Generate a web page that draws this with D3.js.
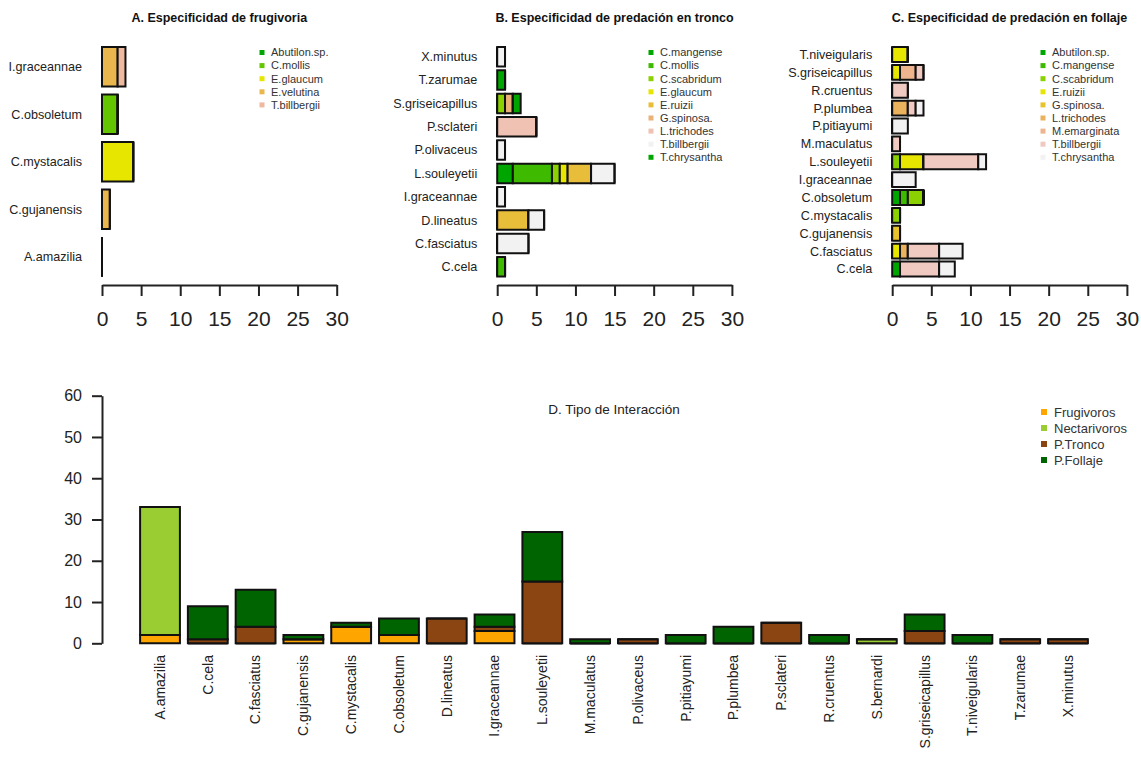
<!DOCTYPE html>
<html>
<head>
<meta charset="utf-8">
<script src="https://cdn.jsdelivr.net/npm/d3@7"></script>
<style>
  html, body { margin: 0; padding: 0; background: #fff; }
  svg { display: block; font-family: "Liberation Sans", Arial, sans-serif; }
</style>
</head>
<body>
<svg id="chart" width="1141" height="760"></svg>
<script>
// ---------- Panel A: frugivory ----------
const frugBirds = ["A.amazilia", "C.gujanensis", "C.mystacalis", "C.obsoletum", "I.graceannae"];
const frugPlants = ["Abutilon.sp.", "C.mollis", "E.glaucum", "E.velutina", "T.billbergii"];
const frugAbutilon = [0, 0, 0, 0, 0];
const frugCmollis = [0, 0, 0, 2, 0];
const frugEglaucum = [0, 0, 4, 0, 0];
const frugEvelutina = [0, 1, 0, 0, 2];
const frugTbillbergii = [0, 0, 0, 0, 1];
const frugColors = ["#00A600", "#63C600", "#E6E600", "#EAB64E", "#EEB99F"];

// ---------- Panel B: trunk predation ----------
const troncoBirds = ["C.cela", "C.fasciatus", "D.lineatus", "I.graceannae", "L.souleyetii",
  "P.olivaceus", "P.sclateri", "S.griseicapillus", "T.zarumae", "X.minutus"];
const troncoPlants = ["C.mangense", "C.mollis", "C.scabridum", "E.glaucum", "E.ruizii",
  "G.spinosa.", "L.trichodes", "T.billbergii", "T.chrysantha"];
const trCmangense   = [0, 0, 0, 0, 2, 0, 0, 0, 1, 0];
const trCmollis     = [1, 0, 0, 0, 5, 0, 0, 0, 0, 0];
const trCscabridum  = [0, 0, 0, 0, 1, 0, 0, 1, 0, 0];
const trEglaucum    = [0, 0, 0, 0, 1, 0, 0, 0, 0, 0];
const trEruizii     = [0, 0, 4, 0, 3, 0, 0, 0, 0, 0];
const trGspinosa    = [0, 0, 0, 0, 0, 0, 0, 1, 0, 0];
const trLtrichodes  = [0, 0, 0, 0, 0, 0, 5, 0, 0, 0];
const trTbillbergii = [0, 4, 2, 1, 3, 1, 0, 0, 0, 1];
const trTchrysantha = [0, 0, 0, 0, 0, 0, 0, 1, 0, 0];
const troncoColors = ["#00A600", "#3EBB00", "#8BD000", "#E6E600", "#E8BD3A",
  "#EBB176", "#EFC2B3", "#F2F2F2", "#00A600"];

// ---------- Panel C: foliage predation ----------
const follajeBirds = ["C.cela", "C.fasciatus", "C.gujanensis", "C.mystacalis", "C.obsoletum",
  "I.graceannae", "L.souleyetii", "M.maculatus", "P.pitiayumi", "P.plumbea", "R.cruentus",
  "S.griseicapillus", "T.niveigularis"];
const follajePlants = ["Abutilon.sp.", "C.mangense", "C.scabridum", "E.ruizii", "G.spinosa.",
  "L.trichodes", "M.emarginata", "T.billbergii", "T.chrysantha"];
const foAbutilon    = [1, 0, 0, 0, 1, 0, 0, 0, 0, 0, 0, 0, 0];
const foCmangense   = [0, 0, 0, 0, 1, 0, 0, 0, 0, 0, 0, 0, 0];
const foCscabridum  = [0, 0, 0, 1, 2, 0, 1, 0, 0, 0, 0, 0, 0];
const foEruizii     = [0, 1, 0, 0, 0, 0, 3, 0, 0, 0, 0, 1, 2];
const foGspinosa    = [0, 0, 1, 0, 0, 0, 0, 0, 0, 0, 0, 0, 0];
const foLtrichodes  = [0, 1, 0, 0, 0, 0, 0, 0, 0, 2, 0, 0, 0];
const foMemarginata = [0, 0, 0, 0, 0, 0, 0, 0, 0, 0, 0, 2, 0];
const foTbillbergii = [5, 4, 0, 0, 0, 0, 7, 1, 0, 1, 2, 1, 0];
const foTchrysantha = [2, 3, 0, 0, 0, 3, 1, 0, 2, 1, 0, 0, 0];
const follajeColors = ["#00A600", "#3EBB00", "#8BD000", "#E6E600", "#E8C32E",
  "#EBB25E", "#EDB48E", "#F0C9C0", "#F2F2F2"];

// ---------- Panel D: interaction type ----------
const allBirds = ["A.amazilia", "C.cela", "C.fasciatus", "C.gujanensis", "C.mystacalis",
  "C.obsoletum", "D.lineatus", "I.graceannae", "L.souleyetii", "M.maculatus", "P.olivaceus",
  "P.pitiayumi", "P.plumbea", "P.sclateri", "R.cruentus", "S.bernardi", "S.griseicapillus",
  "T.niveigularis", "T.zarumae", "X.minutus"];
const interTypes = ["Frugivoros", "Nectarivoros", "P.Tronco", "P.Follaje"];
const frugivoros   = [2, 0, 0, 1, 4, 2, 0, 3, 0, 0, 0, 0, 0, 0, 0, 0, 0, 0, 0, 0];
const nectarivoros = [31, 0, 0, 0, 0, 0, 0, 0, 0, 0, 0, 0, 0, 0, 0, 1, 0, 0, 0, 0];
const pTronco      = [0, 1, 4, 0, 0, 0, 6, 1, 15, 0, 1, 0, 0, 5, 0, 0, 3, 0, 1, 1];
const pFollaje     = [0, 8, 9, 1, 1, 4, 0, 3, 12, 1, 0, 2, 4, 0, 2, 0, 4, 2, 0, 0];
const interColors = ["#FFA500", "#9ACD32", "#8B4513", "#006400"];
const xTicksTop = [0, 5, 10, 15, 20, 25, 30];
const yTicksD = [0, 10, 20, 30, 40, 50, 60];

const svg = d3.select("#chart");

function rectPath(x0, y0, x1, y1) {
  const p = d3.path();
  p.moveTo(x0, y0); p.lineTo(x1, y0); p.lineTo(x1, y1); p.lineTo(x0, y1); p.closePath();
  return p.toString();
}

function hPanel(o) {
  const g = svg.append("g");
  const x = d3.scaleLinear().domain([0, 30]).range([o.x0, o.x0 + 234.7]);
  const y = d3.scaleBand().domain(o.birds).range([276.5, 47]).paddingInner(1 / 6).paddingOuter(0);
  // title
  g.append("text").attr("x", o.x0 + 117.3).attr("y", 21.5).attr("text-anchor", "middle")
    .attr("font-weight", "bold").attr("font-size", 12.5).attr("fill", "#111").text(o.title);
  // bars
  o.birds.forEach((b, i) => {
    let cum = 0;
    o.series.forEach((s, k) => {
      const v = s[i];
      g.append("path")
        .attr("d", rectPath(x(cum), y(b), x(cum + v), y(b) + y.bandwidth()))
        .attr("fill", o.colors[k]).attr("stroke", "#111").attr("stroke-width", 2);
      cum += v;
    });
  });
  // category labels
  g.selectAll("text.cat").data(o.birds).join("text").attr("class", "cat")
    .attr("x", o.x0 - 20).attr("y", d => y(d) + y.bandwidth() / 2).attr("dy", "0.35em")
    .attr("text-anchor", "end").attr("font-size", 12.6).attr("fill", "#222").text(d => d);
  // axis
  const ax = g.append("g").attr("transform", "translate(0,285)")
    .call(d3.axisBottom(x).tickValues(xTicksTop).tickSize(11).tickSizeOuter(0).tickPadding(15));
  ax.select(".domain").attr("stroke", "#222").attr("stroke-width", 2);
  ax.selectAll(".tick line").attr("stroke", "#222").attr("stroke-width", 2);
  ax.selectAll(".tick text").attr("font-size", 21).attr("fill", "#222")
    .attr("font-family", "Liberation Sans, Arial, sans-serif");
  // legend
  const lg = g.append("g");
  o.plants.forEach((p, k) => {
    const yy = 52.5 + k * 13.1;
    lg.append("rect").attr("x", o.lx - 2.5).attr("y", yy - 2.5).attr("width", 5).attr("height", 5)
      .attr("fill", o.colors[k]);
    lg.append("text").attr("x", o.lx + 9).attr("y", yy).attr("dy", "0.35em")
      .attr("font-size", 11).attr("fill", "#333").text(p);
  });
}

hPanel({ x0: 102, title: "A. Especificidad de frugivoria", birds: frugBirds, plants: frugPlants,
  series: [frugAbutilon, frugCmollis, frugEglaucum, frugEvelutina, frugTbillbergii],
  colors: frugColors, lx: 262 });
hPanel({ x0: 497.2, title: "B. Especificidad de predación en tronco", birds: troncoBirds, plants: troncoPlants,
  series: [trCmangense, trCmollis, trCscabridum, trEglaucum, trEruizii, trGspinosa, trLtrichodes, trTbillbergii, trTchrysantha],
  colors: troncoColors, lx: 651 });
hPanel({ x0: 892.2, title: "C. Especificidad de predación en follaje", birds: follajeBirds, plants: follajePlants,
  series: [foAbutilon, foCmangense, foCscabridum, foEruizii, foGspinosa, foLtrichodes, foMemarginata, foTbillbergii, foTchrysantha],
  colors: follajeColors, lx: 1043 });

// ---------- Panel D ----------
(function () {
  const g = svg.append("g");
  const x = d3.scaleBand().domain(allBirds).range([140.1, 1087.9]).paddingInner(1 / 6).paddingOuter(0);
  const y = d3.scaleLinear().domain([0, 60]).range([643.3, 395.7]);
  const series = [frugivoros, nectarivoros, pTronco, pFollaje];
  allBirds.forEach((b, i) => {
    let cum = 0;
    series.forEach((s, k) => {
      const v = s[i];
      g.append("path")
        .attr("d", rectPath(x(b), y(cum), x(b) + x.bandwidth(), y(cum + v)))
        .attr("fill", interColors[k]).attr("stroke", "#111").attr("stroke-width", 2);
      cum += v;
    });
  });
  const ay = g.append("g").attr("transform", "translate(102,0)")
    .call(d3.axisLeft(y).tickValues(yTicksD).tickSize(10).tickSizeOuter(0).tickPadding(10));
  ay.select(".domain").attr("stroke", "#222").attr("stroke-width", 2);
  ay.selectAll(".tick line").attr("stroke", "#222").attr("stroke-width", 2);
  ay.selectAll(".tick text").attr("font-size", 16).attr("fill", "#222")
    .attr("font-family", "Liberation Sans, Arial, sans-serif");
  // rotated labels
  g.selectAll("text.xl").data(allBirds).join("text").attr("class", "xl")
    .attr("transform", d => `translate(${x(d) + x.bandwidth() / 2},655) rotate(-90)`)
    .attr("dy", "0.35em").attr("text-anchor", "end").attr("font-size", 14).attr("fill", "#222")
    .text(d => d);
  g.append("text").attr("x", 614).attr("y", 414).attr("text-anchor", "middle")
    .attr("font-size", 13.5).attr("fill", "#222").text("D. Tipo de Interacción");
  interTypes.forEach((t, k) => {
    const yy = 412 + k * 16;
    g.append("rect").attr("x", 1041).attr("y", yy - 3).attr("width", 6).attr("height", 6).attr("fill", interColors[k]);
    g.append("text").attr("x", 1054).attr("y", yy).attr("dy", "0.35em").attr("font-size", 13)
      .attr("fill", "#333").text(t);
  });
})();
</script>
</body>
</html>
